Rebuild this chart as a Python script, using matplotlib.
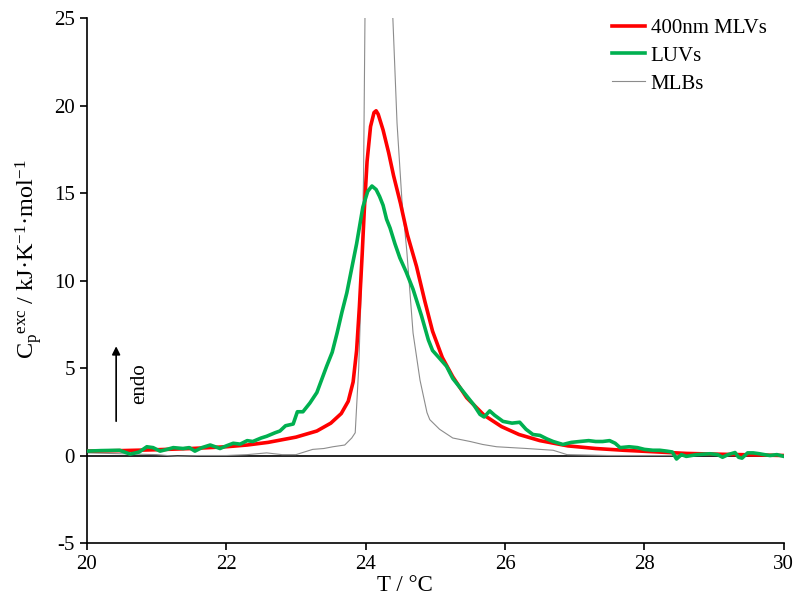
import matplotlib
matplotlib.use('Agg')
import matplotlib.pyplot as plt

plt.rcParams['font.family'] = ['Liberation Serif', 'DejaVu Serif']
plt.rcParams['mathtext.fontset'] = 'custom'
plt.rcParams['mathtext.rm'] = 'Liberation Serif'
plt.rcParams['mathtext.it'] = 'Liberation Serif:italic'
plt.rcParams['axes.unicode_minus'] = False
plt.rcParams['font.size'] = 15

# 400nm MLVs (rot)
t_mlv = [20.0, 20.5, 21.0, 21.5, 22.0, 22.3, 22.6, 23.0, 23.3, 23.5, 23.65, 23.75,
         23.82, 23.87, 23.91, 23.95, 23.98, 24.02, 24.07, 24.12, 24.15, 24.18, 24.25,
         24.33, 24.4, 24.5, 24.6, 24.73, 24.85, 24.96, 25.1, 25.25, 25.45, 25.7,
         25.95, 26.2, 26.5, 26.9, 27.3, 27.7, 28.2, 28.6, 29.0, 29.5, 30.0]
cp_mlv = [0.25, 0.28, 0.33, 0.4, 0.5, 0.6, 0.75, 1.05, 1.4, 1.85, 2.4, 3.1,
          4.2, 6.0, 8.5, 11.5, 14.0, 16.8, 18.8, 19.6, 19.7, 19.5, 18.6,
          17.3, 16.0, 14.4, 12.6, 10.8, 8.8, 7.1, 5.6, 4.5, 3.3, 2.3,
          1.65, 1.2, 0.85, 0.55, 0.4, 0.3, 0.2, 0.12, 0.08, 0.04, 0.0]

# LUVs (gruen)
t_luv = [20.0, 20.2, 20.47, 20.62, 20.75, 20.86, 20.95, 21.05, 21.15, 21.24, 21.38,
         21.47, 21.55, 21.65, 21.77, 21.91, 22.0, 22.1, 22.2, 22.3, 22.38, 22.5,
         22.58, 22.7, 22.77, 22.85, 22.96, 23.02, 23.1, 23.2, 23.3, 23.44, 23.52,
         23.59, 23.66, 23.73, 23.8, 23.87, 23.96, 24.03, 24.09, 24.15, 24.2, 24.25,
         24.3, 24.35, 24.42, 24.49, 24.58, 24.68, 24.8, 24.9, 24.96, 25.05, 25.16,
         25.25, 25.35, 25.45, 25.55, 25.64, 25.7, 25.78, 25.85, 25.97, 26.1, 26.21,
         26.3, 26.4, 26.5, 26.6, 26.69, 26.83, 26.95, 27.07, 27.2, 27.3, 27.4,
         27.5, 27.58, 27.65, 27.78, 27.9, 28.0, 28.12, 28.22, 28.32, 28.4, 28.46,
         28.53, 28.6, 28.75, 28.94, 29.05, 29.12, 29.2, 29.3, 29.35, 29.4, 29.48,
         29.56, 29.65, 29.72, 29.8, 29.9, 30.0]
cp_luv = [0.25, 0.28, 0.3, 0.08, 0.2, 0.5, 0.45, 0.25, 0.35, 0.45, 0.4,
          0.45, 0.25, 0.45, 0.6, 0.4, 0.55, 0.7, 0.65, 0.85, 0.8, 1.0,
          1.1, 1.3, 1.4, 1.7, 1.8, 2.5, 2.5, 3.0, 3.6, 5.1, 5.9,
          7.0, 8.2, 9.3, 10.7, 12.1, 14.2, 15.1, 15.4, 15.2, 14.8, 14.3,
          13.5, 13.0, 12.1, 11.3, 10.5, 9.5, 8.0, 6.6, 6.0, 5.6, 5.1,
          4.4, 3.9, 3.4, 2.9, 2.35, 2.2, 2.55, 2.3, 1.95, 1.85, 1.9,
          1.5, 1.2, 1.15, 0.95, 0.8, 0.63, 0.75, 0.8, 0.85, 0.8, 0.8,
          0.85, 0.7, 0.45, 0.5, 0.45, 0.35, 0.3, 0.3, 0.25, 0.2, -0.2,
          0.05, -0.05, 0.05, 0.1, 0.05, -0.1, 0.05, 0.17, -0.1, -0.15, 0.15,
          0.15, 0.1, 0.05, 0.0, 0.05, -0.05]

# MLBs (grau), Peak geht ueber die Achse hinaus
t_mlb = [20.0, 20.5, 21.0, 21.3, 21.6, 22.0, 22.3, 22.58, 22.8, 23.0, 23.24, 23.4,
         23.53, 23.7, 23.8, 23.85, 23.9, 23.94, 23.97, 23.99, 24.05, 24.15, 24.25,
         24.35, 24.39, 24.45, 24.52, 24.59, 24.68, 24.78, 24.88, 24.92, 25.06,
         25.25, 25.5, 25.68, 25.88, 26.31, 26.69, 26.89, 27.5, 28.5, 29.0, 30.0]
cp_mlb = [0.15, 0.1, 0.05, -0.05, 0.0, 0.0, 0.05, 0.15, 0.05, 0.05, 0.35, 0.4,
          0.5, 0.6, 1.0, 1.3, 5.0, 9.9, 16.0, 25.0, 45.0, 60.0, 50.0,
          30.0, 25.0, 19.0, 14.6, 11.7, 7.0, 4.3, 2.45, 2.05, 1.5,
          1.0, 0.8, 0.63, 0.5, 0.4, 0.3, 0.05, 0.0, 0.0, 0.05, 0.0]

fig = plt.figure(figsize=(7.97, 6.01), dpi=100)
ax = fig.add_axes([0.109, 0.0965, 0.8745, 0.8735])

ax.axhline(0, color='black', lw=1.2, zorder=1)
ax.plot(t_mlv, cp_mlv, color='#FF0000', lw=2.6, label='400nm MLVs', zorder=3)
ax.plot(t_luv, cp_luv, color='#00B050', lw=2.6, label='LUVs', zorder=4)
ax.plot(t_mlb, cp_mlb, color='#8c8c8c', lw=0.8, label='MLBs', zorder=2)

ax.set_xlim(20, 30)
ax.set_ylim(-5, 25)
ax.set_xticks(range(20, 31, 2))
ax.set_yticks(range(-5, 26, 5))
ax.spines['top'].set_visible(False)
ax.spines['right'].set_visible(False)
ax.spines['left'].set_linewidth(1.2)
ax.spines['bottom'].set_linewidth(1.2)
ax.tick_params(direction='out', length=5, width=1.2, labelsize=15)

ax.set_xlabel('T / °C', fontsize=16.5)
ax.xaxis.set_label_coords(0.456, -0.061)
ax.set_ylabel(r'C$_\mathregular{p}$$^\mathregular{exc}$ / kJ·K$^\mathregular{-1}$·mol$^\mathregular{-1}$',
              fontsize=17.5)
ax.yaxis.set_label_coords(-0.062, 0.54)

# endo Pfeil
ax.annotate('', xy=(20.42, 6.4), xytext=(20.42, 1.8),
            arrowprops=dict(arrowstyle='-|>', color='black', lw=1.2, mutation_scale=12))
ax.text(20.76, 4.1, 'endo', rotation=90, ha='center', va='center', fontsize=15)

leg = ax.legend(loc='upper left', bbox_to_anchor=(0.755, 0.987), bbox_transform=fig.transFigure,
                frameon=False, handlelength=1.6, handletextpad=0.25, labelspacing=0.4,
                borderpad=0, fontsize=15)

fig.savefig('out.png', dpi=100)
